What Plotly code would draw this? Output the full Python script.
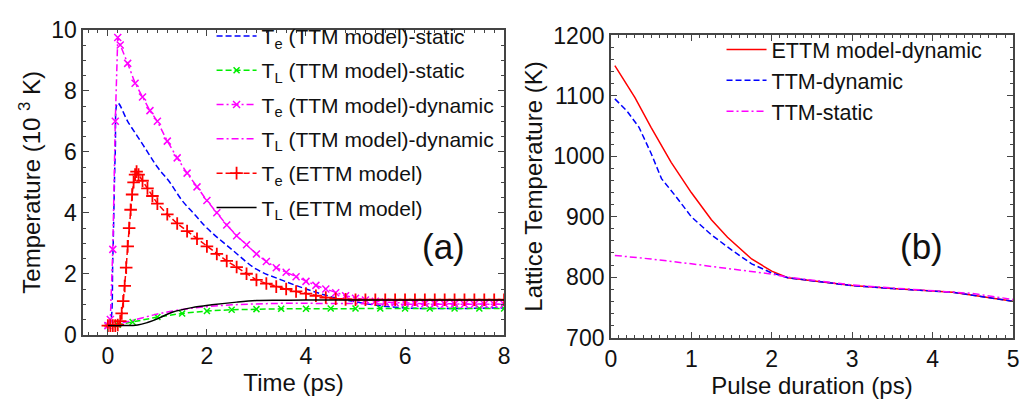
import plotly.graph_objects as go

# ---------------- Panel (a): temperature evolution ----------------
t_te_static = [0, 0.05, 0.1, 0.15, 0.2, 0.4, 0.6, 0.8, 1.0, 1.25, 1.5, 1.75, 2.0, 2.5,
               3.0, 3.5, 4.0, 4.5, 5.0, 5.5, 6.0, 6.5, 7.0, 7.5, 8.0]
te_static = [0.3, 0.4, 2.5, 6.0, 7.6, 7.0, 6.5, 6.0, 5.5, 5.0, 4.4, 3.95, 3.5, 2.8,
             2.15, 1.8, 1.5, 1.25, 1.08, 0.95, 0.88, 0.86, 0.86, 0.87, 0.88]

t_tl_static = [0, 0.2, 0.5, 1.0, 1.5, 2.0, 2.5, 3.0, 3.5, 4.0, 4.5, 5.0, 5.5, 6.0,
               6.5, 7.0, 7.5, 8.0]
tl_static = [0.3, 0.33, 0.42, 0.58, 0.7, 0.78, 0.82, 0.84, 0.85, 0.85, 0.86, 0.86,
             0.86, 0.86, 0.86, 0.86, 0.86, 0.86]

t_te_dyn = [0, 0.05, 0.1, 0.15, 0.2, 0.25, 0.4, 0.55, 0.7, 0.85, 1.0, 1.2, 1.4, 1.6,
            1.8, 2.0, 2.2, 2.4, 2.6, 2.8, 3.0, 3.2, 3.4, 3.6, 3.8, 4.0, 4.2, 4.4,
            4.6, 4.8, 5.0, 5.2, 5.4, 5.6, 5.8, 6.0, 6.2, 6.4, 6.6, 6.8, 7.0, 7.2,
            7.4, 7.6, 7.8, 8.0]
te_dyn = [0.3, 0.5, 2.8, 7.0, 9.75, 9.5, 8.9, 8.25, 7.8, 7.35, 7.0, 6.35, 5.8, 5.3,
          4.85, 4.4, 4.0, 3.6, 3.25, 2.95, 2.65, 2.4, 2.2, 2.05, 1.9, 1.75, 1.62, 1.5,
          1.38, 1.28, 1.2, 1.14, 1.1, 1.07, 1.05, 1.04, 1.03, 1.02, 1.02, 1.01, 1.01,
          1.0, 1.0, 1.0, 1.0, 1.0]

t_tl_dyn = [0, 0.2, 0.5, 1.0, 1.5, 2.0, 2.5, 3.0, 3.5, 4.0, 5.0, 6.0, 7.0, 8.0]
tl_dyn = [0.3, 0.35, 0.47, 0.68, 0.83, 0.92, 0.98, 1.01, 1.03, 1.03, 1.02, 1.0, 1.0, 1.0]

t_te_ettm = [0, 0.05, 0.1, 0.15, 0.2, 0.25, 0.28, 0.31, 0.34, 0.37, 0.4, 0.43, 0.46,
             0.49, 0.52, 0.55, 0.58, 0.62, 0.7, 0.8, 0.9, 1.0, 1.2, 1.4, 1.6, 1.8, 2.0,
             2.2, 2.4, 2.6, 2.8, 3.0, 3.2, 3.4, 3.6, 3.8, 4.0, 4.2, 4.4, 4.6, 4.8, 5.0,
             5.2, 5.4, 5.6, 5.8, 6.0, 6.2, 6.4, 6.6, 6.8, 7.0, 7.2, 7.4, 7.6, 7.8, 8.0]
te_ettm = [0.3, 0.3, 0.3, 0.3, 0.32, 0.45, 0.7, 1.1, 1.6, 2.2, 2.9, 3.5, 4.1,
           4.6, 5.0, 5.25, 5.35, 5.25, 5.05, 4.8, 4.55, 4.3, 3.95, 3.65, 3.4, 3.15, 2.9,
           2.65, 2.42, 2.22, 2.0, 1.8, 1.68, 1.58, 1.5, 1.42, 1.35, 1.28, 1.22, 1.18, 1.16,
           1.15, 1.15, 1.15, 1.15, 1.15, 1.15, 1.15, 1.15, 1.15, 1.15, 1.15, 1.15, 1.15,
           1.15, 1.15, 1.15]

t_tl_ettm = [0, 0.3, 0.6, 0.8, 1.0, 1.3, 1.7, 2.1, 2.6, 3.0, 3.5, 4.0, 5.0, 6.0, 7.0, 8.0]
tl_ettm = [0.3, 0.3, 0.32, 0.4, 0.52, 0.74, 0.89, 0.98, 1.07, 1.12, 1.13, 1.14, 1.14,
           1.14, 1.14, 1.14]

# ---------------- Panel (b): lattice temperature vs pulse duration ----------------
tau_ettm = [0.05, 0.3, 0.5, 0.75, 1.0, 1.25, 1.45, 1.75, 2.0, 2.2, 2.5, 3.0, 3.5, 4.0,
            4.25, 4.5, 5.0]
tl_b_ettm = [1150, 1097, 1048, 990, 940, 895, 866, 830, 810, 799, 794, 786, 781, 777,
             775, 770, 760]

tau_ttm_dyn = [0.05, 0.2, 0.35, 0.5, 0.63, 0.8, 1.0, 1.25, 1.5, 1.75, 2.0, 2.2, 2.5,
               3.0, 3.5, 4.0, 4.25, 4.5, 5.0]
tl_b_ttm_dyn = [1095, 1075, 1048, 1005, 963, 935, 900, 870, 845, 822, 807, 799, 794,
                786, 781, 777, 775, 770, 760]

tau_ttm_static = [0.05, 0.5, 1.0, 1.5, 2.0, 2.2, 2.5, 3.0, 3.5, 4.0, 4.5, 5.0]
tl_b_ttm_static = [836, 830, 822, 814, 805, 800, 795, 787, 782, 778, 773, 763]

FONT = "Arial, Liberation Sans, sans-serif"
DASH = "6px,3px"
DASHDOT = "7px,3px,2px,3px"
W, H = 1025, 402

fig = go.Figure()


def add(x, y, name, color, dash, legend, group, xa, ya, marker=None, shape="linear"):
    kw = dict(x=x, y=y, name=name, legend=legend, legendgroup=group,
              xaxis=xa, yaxis=ya,
              line=dict(color=color, width=1.5, dash=dash, shape=shape))
    if marker:
        kw["mode"] = "lines+markers"
        kw["marker"] = marker
    else:
        kw["mode"] = "lines"
    fig.add_trace(go.Scatter(**kw))


add(t_te_static, te_static, "T<sub>e</sub> (TTM model)-static", "#0000ff", DASH,
    "legend", "a1", "x", "y", shape="spline")
add(t_tl_static, tl_static, "T<sub>L</sub> (TTM model)-static", "#00ee00", DASH,
    "legend", "a2", "x", "y",
    marker=dict(symbol="x-thin-open", size=6, line=dict(color="#00ee00", width=1.5)))
add(t_te_dyn, te_dyn, "T<sub>e</sub> (TTM model)-dynamic", "#ff00ff", DASHDOT,
    "legend", "a3", "x", "y",
    marker=dict(symbol="x-thin-open", size=7, line=dict(color="#ff00ff", width=1.5)))
add(t_tl_dyn, tl_dyn, "T<sub>L</sub> (TTM model)-dynamic", "#ff00ff", DASHDOT,
    "legend", "a4", "x", "y", shape="spline")
add(t_te_ettm, te_ettm, "T<sub>e</sub> (ETTM model)", "#ff0000", DASH,
    "legend", "a5", "x", "y",
    marker=dict(symbol="cross-thin-open", size=9, line=dict(color="#ff0000", width=1.8)))
add(t_tl_ettm, tl_ettm, "T<sub>L</sub> (ETTM model)", "#000000", "solid",
    "legend", "a6", "x", "y", shape="spline")

add(tau_ettm, tl_b_ettm, "ETTM model-dynamic", "#ff0000", "solid",
    "legend2", "b", "x2", "y2")
add(tau_ttm_dyn, tl_b_ttm_dyn, "TTM-dynamic", "#0000ff", DASH,
    "legend2", "b", "x2", "y2")
add(tau_ttm_static, tl_b_ttm_static, "TTM-static", "#ff00ff", DASHDOT,
    "legend2", "b", "x2", "y2")

axis_common = dict(showline=True, linecolor="#444", linewidth=1.5, mirror="ticks",
                   ticks="inside", ticklen=6, tickwidth=1.2, tickcolor="#444",
                   showgrid=False, zeroline=False,
                   tickfont=dict(family=FONT, size=23, color="#111"))


def px_x(p):
    return p / W


def px_y(p):
    return (H - p) / H


fig.update_layout(
    width=W, height=H,
    margin=dict(l=0, r=0, t=0, b=0),
    paper_bgcolor="white", plot_bgcolor="white",
    font=dict(family=FONT, color="#111"),
    xaxis=dict(axis_common, domain=[px_x(78), px_x(504)], range=[-0.5, 8],
               tick0=0, dtick=2,
               minor=dict(ticks="inside", dtick=0.2, tick0=0, ticklen=3, tickcolor="#444"),
               title=dict(text="Time (ps)", font=dict(size=24), standoff=2),
               anchor="y"),
    yaxis=dict(axis_common, domain=[px_y(344), px_y(18)], range=[0, 10],
               tick0=0, dtick=2,
               minor=dict(ticks="inside", dtick=0.5, tick0=0, ticklen=3, tickcolor="#444"),
               title=dict(text="Temperature (10 <sup>3</sup> K)", font=dict(size=24),
                          standoff=4),
               anchor="x"),
    xaxis2=dict(axis_common, domain=[px_x(612), px_x(1019)], range=[0, 5],
                tick0=0, dtick=1,
                minor=dict(ticks="inside", dtick=0.1, tick0=0, ticklen=3, tickcolor="#444"),
                title=dict(text="Pulse duration (ps)", font=dict(size=24), standoff=2),
                anchor="y2"),
    yaxis2=dict(axis_common, domain=[px_y(347), px_y(24)], range=[700, 1200],
                tick0=700, dtick=100,
                minor=dict(ticks="inside", dtick=20, tick0=700, ticklen=3, tickcolor="#444"),
                title=dict(text="Lattice Temperature (K)", font=dict(size=24), standoff=4),
                anchor="x2"),
    legend=dict(x=px_x(208), y=px_y(3), xanchor="left", yanchor="top",
                bgcolor="rgba(0,0,0,0)", font=dict(family=FONT, size=21, color="#111"),
                itemwidth=40, tracegroupgap=4),
    legend2=dict(x=px_x(724), y=px_y(17), xanchor="left", yanchor="top",
                 bgcolor="rgba(0,0,0,0)", font=dict(family=FONT, size=21.5, color="#111"),
                 itemwidth=40, tracegroupgap=0),
    showlegend=True,
    annotations=[
        dict(text="(a)", x=px_x(443), y=px_y(250), xref="paper", yref="paper",
             showarrow=False, font=dict(family=FONT, size=35, color="#111")),
        dict(text="(b)", x=px_x(950), y=px_y(250), xref="paper", yref="paper",
             showarrow=False, font=dict(family=FONT, size=35, color="#111")),
    ],
)

fig.write_html("out.html")
